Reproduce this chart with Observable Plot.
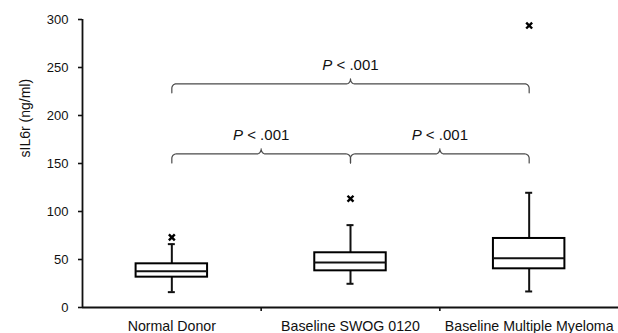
<!DOCTYPE html>
<html><head><meta charset="utf-8">
<script src="https://cdn.jsdelivr.net/npm/d3@7"></script>
<script src="https://cdn.jsdelivr.net/npm/@observablehq/plot@0.6"></script>
<style>body{margin:0;background:#fff} #chart svg{display:block}</style>
</head><body><div id="chart"></div>
<script>
// ---- data ----
const categories = ["Normal Donor", "Baseline SWOG 0120", "Baseline Multiple Myeloma"];
const whiskerLow  = [16, 24.7, 16.7];
const q1          = [31.6, 38.2, 40.3];
const median      = [37.8, 46.9, 51.4];
const q3          = [45.5, 57, 71.9];
const whiskerHigh = [66, 85.8, 119.5];
const outlierGroup = [1, 2, 3];
const outlierValue = [73, 113.3, 293.7];
const yTicks = [0, 50, 100, 150, 200, 250, 300];
const bracketFrom  = [1, 1, 2];
const bracketTo    = [3, 2, 3];
const bracketLevel = [233, 160, 160];
const bracketLabel = ["P < .001", "P < .001", "P < .001"];
const yLabel = "sIL6r (ng/ml)";

// ---- layout ----
const W = 618, H = 333, ML = 82, MR = 0, MT = 19, MB = 26;
const xk = (W - ML - MR) / 3;   // px per x unit
const yk = (H - MT - MB) / 300; // px per y unit
const boxHalf = 0.2;
const capHalf = 3.5 / xk;

const boxes = categories.map((c, i) => ({pos: i + 1, name: c, lo: whiskerLow[i], q1: q1[i], med: median[i], q3: q3[i], hi: whiskerHigh[i]}));
const outliers = outlierValue.map((v, i) => ({pos: outlierGroup[i], v}));
const brackets = bracketFrom.map((f, i) => ({from: f, to: bracketTo[i], mid: (f + bracketTo[i]) / 2, level: bracketLevel[i], label: bracketLabel[i]}));

// curly-brace geometry derived from each bracket's span and level
function bracePoints(b, id) {
  const pts = [];
  const px = p => p / xk, py = p => p / yk;
  const r = 4.5, drop = 9, pw = 4, ph = 5, n = 8;
  const L = b.level, xa = b.from, xb = b.to, xm = b.mid;
  pts.push({x: xa, y: L - py(drop)});
  for (let k = 0; k <= n; k++) { const t = k / n * Math.PI / 2;
    pts.push({x: xa + px(r - r * Math.cos(t)), y: L - py(r - r * Math.sin(t))}); }
  for (let k = 0; k <= n; k++) { const t = k / n * Math.PI / 2;
    pts.push({x: xm - px(pw - pw * Math.sin(t)), y: L + py(ph - ph * Math.cos(t))}); }
  for (let k = n; k >= 0; k--) { const t = k / n * Math.PI / 2;
    pts.push({x: xm + px(pw - pw * Math.sin(t)), y: L + py(ph - ph * Math.cos(t))}); }
  for (let k = n; k >= 0; k--) { const t = k / n * Math.PI / 2;
    pts.push({x: xb - px(r - r * Math.cos(t)), y: L - py(r - r * Math.sin(t))}); }
  pts.push({x: xb, y: L - py(drop)});
  return pts.map(p => ({...p, id}));
}
const bracePts = brackets.flatMap((b, i) => bracePoints(b, i));
const boundaries = categories.slice(1).map((c, i) => i + 1.5);

const chart = Plot.plot({
  width: W, height: H,
  marginLeft: ML, marginRight: MR, marginTop: MT, marginBottom: MB,
  style: {fontFamily: "'Liberation Sans', Arial, sans-serif", fontSize: "13px", color: "#111", background: "#fff"},
  x: {domain: [0.5, 3.5], axis: null},
  y: {domain: [0, 300], axis: null},
  marks: [
    Plot.axisY({ticks: yTicks, tickSize: 4, tickPadding: 10, label: null, fontSize: 13, strokeWidth: 1.6}),
    Plot.axisX({ticks: boundaries, tickSize: 4, tickFormat: () => "", label: null, strokeWidth: 1.6}),
    Plot.axisX({ticks: categories.map((c, i) => i + 1), tickSize: 0, tickPadding: 13, tickFormat: d => categories[d - 1], label: null, fontSize: 14.2}),
    Plot.ruleX([0.5], {y1: 0, y2: 300, strokeWidth: 1.8}),
    Plot.ruleY([0], {x1: 0.5, x2: 3.5, strokeWidth: 1.8}),
    Plot.ruleX(boxes, {x: "pos", y1: "lo", y2: "hi", strokeWidth: 2}),
    Plot.ruleY(boxes, {y: "lo", x1: d => d.pos - capHalf, x2: d => d.pos + capHalf, strokeWidth: 2}),
    Plot.ruleY(boxes, {y: "hi", x1: d => d.pos - capHalf, x2: d => d.pos + capHalf, strokeWidth: 2}),
    Plot.rect(boxes, {x1: d => d.pos - boxHalf, x2: d => d.pos + boxHalf, y1: "q1", y2: "q3", fill: "white", stroke: "black", strokeWidth: 2}),
    Plot.ruleY(boxes, {y: "med", x1: d => d.pos - boxHalf, x2: d => d.pos + boxHalf, strokeWidth: 2}),
    Plot.dot(outliers, {x: "pos", y: "v", symbol: "times", r: 2.8, stroke: "black", strokeWidth: 2.4}),
    Plot.line(bracePts, {x: "x", y: "y", z: "id", stroke: "#4a4a4a", strokeWidth: 1.2, curve: "linear"}),
    Plot.text(brackets, {x: "mid", y: "level", text: "label", dy: -14, lineAnchor: "bottom", fontSize: 15}),
    Plot.text([yLabel], {frameAnchor: "left", text: d => d, rotate: -90, dx: -57, dy: -6, fontSize: 14})
  ]
});

// italic "P" in the p-value labels
const ns = "http://www.w3.org/2000/svg";
chart.querySelectorAll("text").forEach(t => {
  if (t.textContent === "P < .001") {
    t.textContent = "";
    const a = document.createElementNS(ns, "tspan");
    a.setAttribute("font-style", "italic");
    a.textContent = "P";
    t.appendChild(a);
    t.appendChild(document.createTextNode(" < .001"));
  }
});
document.getElementById("chart").appendChild(chart);
</script>
</body></html>
